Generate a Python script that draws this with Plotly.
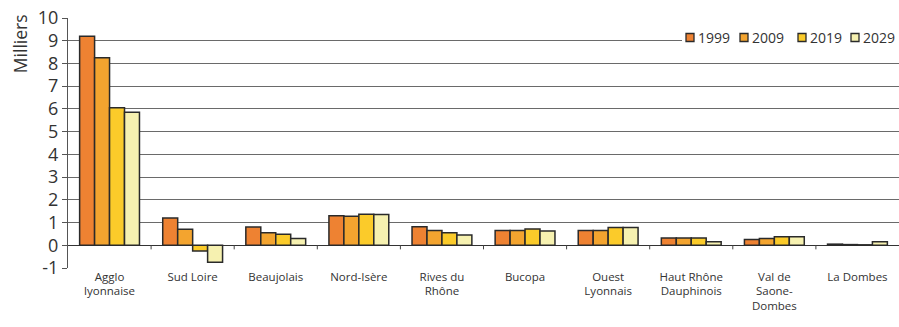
import plotly.graph_objects as go

regions = ["Agglo<br>lyonnaise", "Sud Loire", "Beaujolais", "Nord-Isère", "Rives du<br>Rhône",
           "Bucopa", "Ouest<br>Lyonnais", "Haut Rhône<br>Dauphinois", "Val de<br>Saone-<br>Dombes", "La Dombes"]
years = ["1999", "2009", "2019", "2029"]
v1999 = [9.2, 1.2, 0.8, 1.3, 0.82, 0.65, 0.65, 0.32, 0.25, 0.05]
v2009 = [8.25, 0.7, 0.55, 1.28, 0.65, 0.65, 0.65, 0.32, 0.3, 0.03]
v2019 = [6.05, -0.25, 0.48, 1.37, 0.55, 0.72, 0.78, 0.32, 0.38, 0.02]
v2029 = [5.85, -0.75, 0.3, 1.35, 0.45, 0.63, 0.78, 0.15, 0.38, 0.15]
y_ticks = [-1, 0, 1, 2, 3, 4, 5, 6, 7, 8, 9, 10]
y_labels = ["-1", "0", "1", "2", "3", "4", "5", "6", "7", "8", "9", "10"]
colors = ["#EE8232", "#F3A42F", "#FBCB2A", "#F6F1B0"]

W, H = 899, 327
ML, MR, MT, MB = 68, 0, 18, 59
PW, PH = W - ML - MR, H - MT - MB


def px(x):
    return (x - ML) / PW


def py(y):
    return (H - MB - y) / PH


fig = go.Figure()
for name, vals, col in zip(years, [v1999, v2009, v2019, v2029], colors):
    fig.add_trace(go.Bar(x=list(range(len(regions))), y=vals, name=name,
                         marker=dict(color=col, line=dict(color="#2a2a2a", width=1.5))))

# small separators on the zero line between groups
for i in range(len(regions) - 1):
    fig.add_shape(type="line", xref="x", yref="y", x0=i + 0.5, x1=i + 0.5, y0=0, y1=-0.18,
                  line=dict(color="#444", width=1))

# compact legend drawn in the top-right corner over a white strip
fig.add_shape(type="rect", xref="paper", yref="paper", x0=px(682), x1=px(899),
              y0=py(47), y1=py(28), fillcolor="white", line=dict(width=0))
swatch_left = [686, 740, 798, 851]
for name, col, left in zip(years, colors, swatch_left):
    fig.add_shape(type="rect", xref="paper", yref="paper", x0=px(left), x1=px(left + 8),
                  y0=py(41.5), y1=py(33.5), fillcolor=col, line=dict(color="#2a2a2a", width=1.3))
    fig.add_annotation(text=name, xref="paper", yref="paper", x=px(left + 9.5), y=py(37.5),
                       xanchor="left", yanchor="middle", showarrow=False,
                       font=dict(size=14, color="#333"))

# axis unit label, placed at the top of the value axis
fig.add_annotation(text="Milliers", textangle=-90, xref="paper", yref="y",
                   x=0, y=8.85, xanchor="center", yanchor="middle", xshift=-48,
                   showarrow=False, font=dict(size=17.5, color="#333"))

fig.update_layout(
    width=W, height=H,
    margin=dict(l=ML, r=MR, t=MT, b=MB),
    paper_bgcolor="white", plot_bgcolor="white",
    barmode="group", bargap=0.28, bargroupgap=0,
    font=dict(family="Open Sans", color="#333"),
    showlegend=False,
    xaxis=dict(tickmode="array", tickvals=list(range(len(regions))), ticktext=regions,
               range=[-0.5, len(regions) - 0.5], showgrid=False, zeroline=False,
               showline=False, ticks="", tickfont=dict(size=11.5, color="#333")),
    yaxis=dict(range=[-1, 10], tickmode="array", tickvals=y_ticks, ticktext=y_labels,
               showgrid=True, gridcolor="#6a6a6a", gridwidth=1,
               zeroline=True, zerolinecolor="#333", zerolinewidth=1.2,
               showline=True, linecolor="#555", linewidth=1, ticks="outside", ticklen=5,
               tickcolor="#555", tickfont=dict(size=18, color="#333")),
)
fig.write_html("out.html")
